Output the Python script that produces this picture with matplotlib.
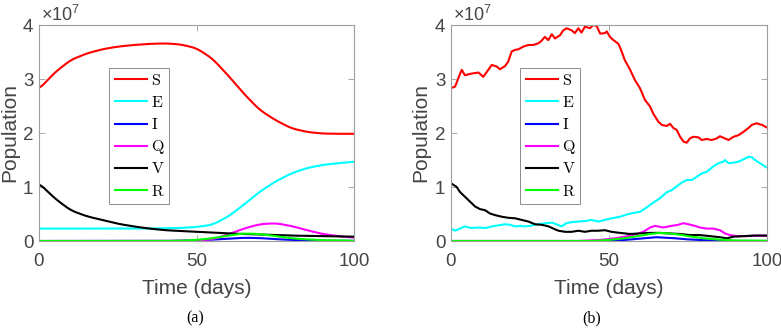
import matplotlib
matplotlib.use("Agg")
import matplotlib.pyplot as plt
import numpy as np

plt.rcParams["mathtext.fontset"] = "custom"
plt.rcParams["mathtext.rm"] = "Liberation Sans"
plt.rcParams["mathtext.it"] = "Liberation Sans"
plt.rcParams["font.family"] = ["Liberation Sans", "DejaVu Sans"]

# ---------------- data (values in units of 1e7) ----------------
labels = ["S", "E", "I", "Q", "V", "R"]
colors = ["#ff0000", "#00ffff", "#0000ff", "#ff00ff", "#000000", "#00ff00"]

# (a) deterministic model
t_a = [0, 5, 10, 15, 20, 25, 30, 35, 40, 45, 50, 55, 60, 65, 70, 75, 80, 85, 90, 95, 100]
S_a = [2.81, 3.12, 3.35, 3.47, 3.55, 3.60, 3.63, 3.65, 3.66, 3.64, 3.57, 3.38, 3.07, 2.73, 2.43, 2.24, 2.09, 2.02, 1.99, 1.985, 1.985]
E_a = [0.23, 0.23, 0.23, 0.23, 0.23, 0.23, 0.23, 0.23, 0.235, 0.24, 0.26, 0.30, 0.45, 0.67, 0.91, 1.10, 1.25, 1.35, 1.41, 1.44, 1.47]
I_a = [0.0, 0.0, 0.0, 0.0, 0.0, 0.0, 0.0, 0.0, 0.0, 0.005, 0.01, 0.025, 0.045, 0.06, 0.055, 0.035, 0.02, 0.01, 0.005, 0.003, 0.002]
Q_a = [0.0, 0.0, 0.0, 0.0, 0.0, 0.0, 0.0, 0.0, 0.0, 0.005, 0.01, 0.03, 0.12, 0.23, 0.31, 0.33, 0.28, 0.20, 0.13, 0.09, 0.06]
V_a = [1.07, 0.79, 0.57, 0.46, 0.39, 0.32, 0.27, 0.23, 0.20, 0.185, 0.17, 0.155, 0.14, 0.13, 0.12, 0.11, 0.10, 0.095, 0.09, 0.085, 0.08]
R_a = [0.0, 0.0, 0.0, 0.0, 0.0, 0.0, 0.0, 0.0, 0.0, 0.005, 0.02, 0.05, 0.10, 0.14, 0.13, 0.09, 0.05, 0.03, 0.015, 0.01, 0.005]

# (b) stochastic model
tS_b = [0, 1.3, 2.9, 3.4, 4.4, 6.5, 8.7, 10.2, 11.8, 12.9, 14.5, 15.5, 17.1, 18.1, 19.2, 20.3, 21.3, 22.9,
        24.5, 26.0, 27.6, 28.7, 29.7, 30.8, 31.9, 32.9, 34.5, 35.5, 36.6, 38.2, 39.2, 40.3, 41.3, 42.4, 44.0,
        45.0, 46.1, 47.2, 48.7, 49.3, 50.3, 51.4, 53.0, 54.0, 55.0, 56.7, 58.2, 59.8, 61.4, 63.0, 64.0, 65.6,
        66.7, 68.3, 69.3, 70.4, 71.4, 72.5, 73.6, 74.6, 75.6, 76.7, 78.3, 79.3, 80.9, 82.5, 84.1, 85.1, 86.7,
        87.8, 89.4, 91.0, 92.5, 94.1, 95.2, 96.7, 98.4, 100]
S_b = [2.83, 2.86, 3.10, 3.17, 3.07, 3.10, 3.12, 3.04, 3.17, 3.26, 3.23, 3.18, 3.24, 3.32, 3.51, 3.54, 3.55, 3.60,
       3.63, 3.63, 3.66, 3.71, 3.78, 3.72, 3.83, 3.75, 3.81, 3.90, 3.94, 3.90, 3.85, 3.94, 3.86, 3.97, 3.94,
       4.00, 3.98, 3.84, 3.85, 3.88, 3.78, 3.72, 3.65, 3.51, 3.35, 3.17, 2.98, 2.83, 2.61, 2.49, 2.36, 2.21,
       2.15, 2.13, 2.17, 2.09, 2.06, 1.93, 1.84, 1.82, 1.90, 1.93, 1.92, 1.87, 1.89, 1.87, 1.90, 1.94, 1.90,
       1.87, 1.93, 1.96, 2.02, 2.09, 2.15, 2.18, 2.15, 2.10]

tE_b = [0, 1.3, 2.8, 4.4, 6.5, 8.6, 10.8, 12.9, 15.0, 17.1, 18.7, 20.3, 21.8, 23.4, 25.0, 26.6, 28.7, 30.3,
        31.9, 33.4, 35.0, 36.5, 38.2, 40.3, 42.4, 44.5, 46.6, 48.7, 50.8, 53.5, 55.6, 57.7, 59.8, 61.9, 64.0,
        66.1, 68.2, 69.8, 71.4, 73.0, 74.6, 76.2, 77.8, 79.3, 80.9, 83.0, 84.6, 86.2, 86.7, 87.8, 89.4, 91.0,
        92.5, 94.1, 95.2, 96.2, 97.8, 99.4, 100]
E_b = [0.23, 0.19, 0.23, 0.27, 0.24, 0.25, 0.24, 0.27, 0.29, 0.31, 0.30, 0.27, 0.28, 0.27, 0.28, 0.30, 0.32, 0.33,
       0.34, 0.31, 0.27, 0.33, 0.35, 0.36, 0.37, 0.39, 0.36, 0.39, 0.42, 0.45, 0.49, 0.52, 0.54, 0.62, 0.71,
       0.79, 0.90, 0.94, 1.01, 1.08, 1.13, 1.13, 1.19, 1.25, 1.28, 1.38, 1.44, 1.47, 1.50, 1.44, 1.45, 1.47,
       1.51, 1.56, 1.55, 1.50, 1.44, 1.38, 1.36]

tV_b = [0, 1.8, 2.8, 4.4, 6.0, 7.6, 9.2, 10.8, 12.3, 13.9, 16.0, 18.1, 20.3, 22.4, 24.5, 26.6, 28.7, 30.9,
        32.4, 34.0, 36.1, 38.2, 40.3, 42.4, 44.4, 46.6, 48.7, 50.8, 53.5, 56.6, 59.8, 63.0, 66.1, 69.3, 72.5,
        75.6, 78.8, 82.0, 85.1, 87.3, 89.4, 92.5, 95.7, 100]
V_b = [1.07, 1.00, 0.91, 0.82, 0.73, 0.64, 0.59, 0.57, 0.51, 0.48, 0.45, 0.43, 0.42, 0.39, 0.36, 0.31, 0.30, 0.27,
       0.23, 0.19, 0.17, 0.17, 0.19, 0.17, 0.19, 0.19, 0.20, 0.17, 0.15, 0.13, 0.14, 0.15, 0.15, 0.14, 0.13,
       0.11, 0.11, 0.09, 0.07, 0.05, 0.08, 0.09, 0.10, 0.10]

tQ_b = [0, 40, 44, 47, 52, 55, 57.7, 60.9, 63.0, 64.6, 67.2, 69.8, 71.9, 73.5, 75.1, 77.2, 78.8, 80.9, 83.0,
        85.1, 86.7, 88.3, 90.4, 93.6, 96.7, 100]
Q_b = [0.0, 0.0, 0.01, 0.02, 0.05, 0.08, 0.11, 0.17, 0.25, 0.28, 0.25, 0.28, 0.30, 0.33, 0.31, 0.28, 0.25, 0.23,
       0.23, 0.20, 0.14, 0.11, 0.09, 0.09, 0.10, 0.10]

tI_b = [0, 45, 50, 55, 60, 63, 65, 68, 71, 75, 80, 85, 90, 100]
I_b = [0.0, 0.0, 0.005, 0.02, 0.045, 0.06, 0.07, 0.06, 0.05, 0.03, 0.015, 0.005, 0.0, 0.0]

tR_b = [0, 45, 50, 55, 60, 63, 66, 69, 72, 75, 80, 85, 90, 100]
R_b = [0.0, 0.0, 0.02, 0.05, 0.10, 0.13, 0.15, 0.14, 0.12, 0.09, 0.05, 0.025, 0.01, 0.005]

xticks = [0, 50, 100]
yticks = [0, 1, 2, 3, 4]

# ---------------- figure ----------------
W, H = 781, 331
fig = plt.figure(figsize=(W / 100, H / 100), dpi=100)

def px_box(x0, x1, ytop, ybot):
    return [x0 / W, 1 - ybot / H, (x1 - x0) / W, (ybot - ytop) / H]

axA = fig.add_axes(px_box(39, 354, 25, 241))
axB = fig.add_axes(px_box(451, 767, 25, 241))

series_a = [(t_a, S_a), (t_a, E_a), (t_a, I_a), (t_a, Q_a), (t_a, V_a), (t_a, R_a)]
series_b = [(tS_b, S_b), (tE_b, E_b), (tI_b, I_b), (tQ_b, Q_b), (tV_b, V_b), (tR_b, R_b)]

tick_col = "0.27"
spine_col = "0.62"

def style(ax, data, smooth, legend_x, ylab_x):
    for (t, v), lab, c in zip(data, labels, colors):
        t = np.asarray(t, float)
        v = np.asarray(v, float)
        if smooth:
            tt = np.linspace(0, 100, 400)
            vv = np.interp(tt, t, v)
            k = np.ones(15) / 15
            pad = np.concatenate([np.full(7, vv[0]), vv, np.full(7, vv[-1])])
            vv = np.convolve(pad, k, mode="valid")
            ax.plot(tt, vv * 1e7, color=c, lw=1.5, label=lab)
        else:
            ax.plot(t, v * 1e7, color=c, lw=1.5, label=lab)
    ax.set_xlim(0, 100)
    ax.set_ylim(0, 4e7)
    ax.set_xticks(xticks)
    ax.set_xticklabels([str(x) for x in xticks])
    ax.set_yticks([y * 1e7 for y in yticks])
    ax.set_yticklabels([str(y) for y in yticks])
    ax.tick_params(direction="in", top=True, right=True, length=4, width=0.6,
                   colors=spine_col, labelcolor=tick_col, labelsize=13.5)
    ax.tick_params(axis="x", pad=9)
    ax.tick_params(axis="y", pad=4)
    for s in ax.spines.values():
        s.set_color(spine_col)
        s.set_linewidth(0.8)
    ax.set_xlabel("Time (days)", fontsize=15, color=tick_col)
    ax.xaxis.set_label_coords(0.5, -0.175)
    ax.set_ylabel("Population", fontsize=15, color=tick_col, va="center")
    ax.yaxis.set_label_coords(ylab_x, 0.5)
    ax.text(0.005, 1.0, r"$\times10^{7}$", transform=ax.transAxes, fontsize=13,
            color=tick_col, ha="left", va="bottom")
    leg = ax.legend(loc="upper left", bbox_to_anchor=(legend_x / W, 1 - 68 / H),
                    bbox_transform=fig.transFigure, prop={"family": "cmr10", "size": 11.5},
                    frameon=True, fancybox=False, framealpha=1, edgecolor="0.55",
                    handlelength=2.0, handletextpad=0.3, labelspacing=0.5,
                    borderpad=0.35, borderaxespad=0)
    leg.get_frame().set_linewidth(0.7)

style(axA, series_a, True, 109, (10 - 39) / 315)
style(axB, series_b, False, 520, (421 - 451) / 316)

fig.text(195 / W, 1 - 318 / H, "(a)", family="Liberation Serif", fontsize=11.5, ha="center", va="center")
fig.text(592 / W, 1 - 318 / H, "(b)", family="Liberation Serif", fontsize=11.5, ha="center", va="center")

fig.savefig("out.png", dpi=100)
